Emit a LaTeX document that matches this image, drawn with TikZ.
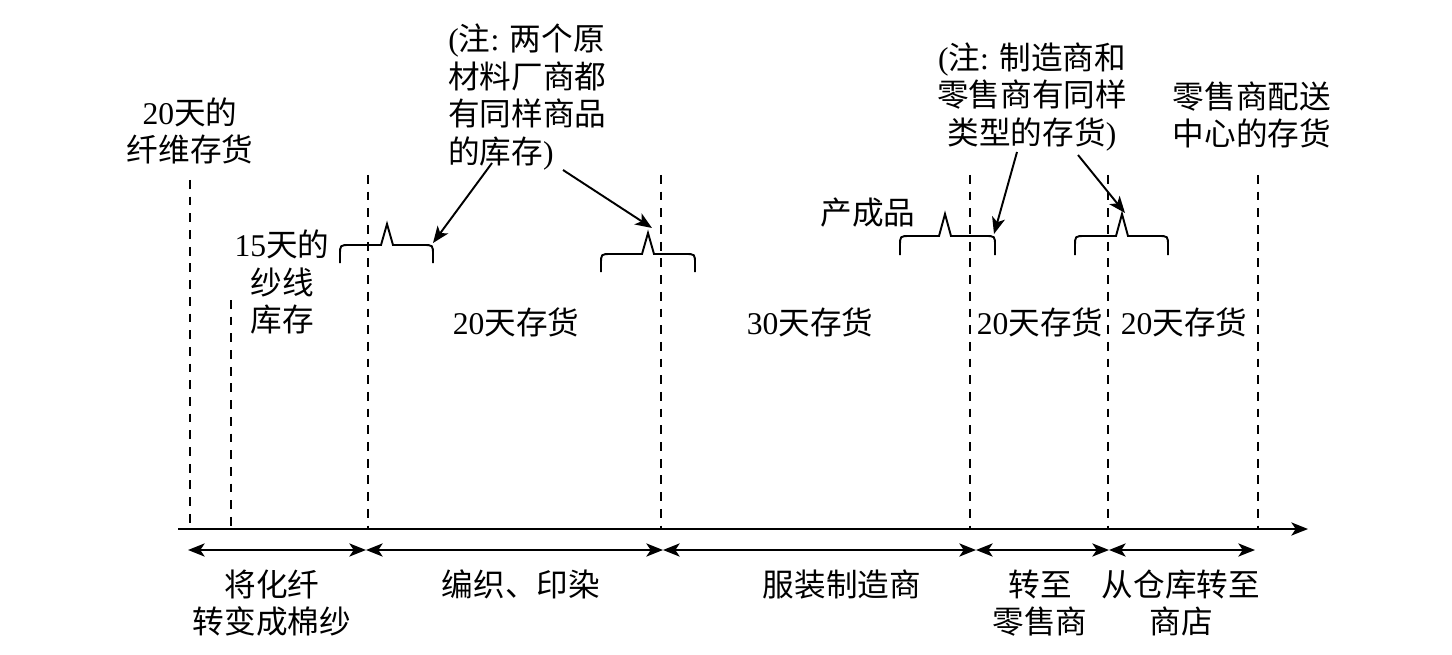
\documentclass[tikz,border=0pt]{standalone}
\usepackage{fontspec}
\setmainfont{Liberation Serif}
\newfontfamily\cjk{Noto Sans CJK SC}
\usetikzlibrary{arrows.meta}
\newcommand\zh[1]{{\cjk #1}}
\begin{document}
\begin{tikzpicture}[x=0.02cm,y=-0.02cm,
  txt/.style={inner sep=0pt,font=\fontsize{18}{21.5}\selectfont,align=center},
  vline/.style={line width=1pt,dash pattern=on 5pt off 4.5pt},
  brace/.style={line width=1.1pt},
  tip/.style={-{Stealth[length=9.5pt,width=7.5pt,inset=2.5pt]}},
  ptr/.style={line width=1.1pt,tip},
  span/.style={line width=1.1pt,{Stealth[length=9.5pt,width=7.5pt,inset=2.5pt]}-{Stealth[length=9.5pt,width=7.5pt,inset=2.5pt]}},
  ]
\useasboundingbox (0,0) rectangle (1452,655);
% dashed lines
\foreach \x/\y in {190/180,231/300,368/175,661/175,970/175,1108/175,1258/175}
  \draw[vline] (\x,\y) -- (\x,529);
% axis
\coordinate (a0) at (178,529);
\coordinate (a1) at (1308,529);
\draw[line width=1.1pt,tip] (a0) -- (a1);
% span arrows
\coordinate (s0) at (188,550);
\coordinate (s1) at (366,550);
\coordinate (s2) at (663,550);
\coordinate (s3) at (976,550);
\coordinate (s4) at (1109,550);
\coordinate (s5) at (1255,550);
\draw[span] (s0) -- (s1);
\draw[span] (s1) -- (s2);
\draw[span] (s2) -- (s3);
\draw[span] (s3) -- (s4);
\draw[span] (s4) -- (s5);
% braces
\foreach \xa/\xb/\yl/\yb/\px/\py in {340/433/245/263/387/224, 601/695/254/272/648/233, 900/995/236/255/945/214, 1075/1168/236/255/1122/214}
  \draw[brace] (\xa,\yb) -- (\xa,\yl+10) .. controls (\xa,\yl) .. (\xa+10,\yl) -- (\px-6,\yl) -- (\px,\py) -- (\px+6,\yl) -- (\xb-10,\yl) .. controls (\xb,\yl) .. (\xb,\yl+10) -- (\xb,\yb);
% texts
\node[txt] (fiber) at (190,131) {20\zh{天的}\\\zh{纤维存货}};
\node[txt] (yarn) at (282,282) {15\zh{天的}\\\zh{纱线}\\\zh{库存}};
\node[txt,align=left,anchor=west] (note1) at (448,97) {(\zh{注}: \zh{两个原}\\\zh{材料厂商都}\\\zh{有同样商品}\\\zh{的库存})};
\node[txt] (note2) at (1032,97) {(\zh{注}: \zh{制造商和}\\\zh{零售商有同样}\\\zh{类型的存货})};
\node[txt] (dist) at (1252,115) {\zh{零售商配送}\\\zh{中心的存货}};
\node[txt] (fin) at (868,213) {\zh{产成品}};
\node[txt] (i1) at (516,322) {20\zh{天存货}};
\node[txt] (i2) at (810,322) {30\zh{天存货}};
\node[txt] (i3) at (1040,322) {20\zh{天存货}};
\node[txt] (i4) at (1184,322) {20\zh{天存货}};
\node[txt] (b1) at (272,603) {\zh{将化纤}\\\zh{转变成棉纱}};
\node[txt] (b2) at (521,584) {\zh{编织、印染}};
\node[txt] (b3) at (842,584) {\zh{服装制造商}};
\node[txt] (b4) at (1040,603) {\zh{转至}\\\zh{零售商}};
\node[txt] (b5) at (1181,603) {\zh{从仓库转至}\\\zh{商店}};
% pointers
\coordinate (p1s) at (492,163);
\coordinate (p1e) at (433,243);
\coordinate (p2s) at (563,170);
\coordinate (p2e) at (652,228);
\coordinate (p3s) at (1017,152);
\coordinate (p3e) at (994,234);
\coordinate (p4s) at (1078,155);
\coordinate (p4e) at (1125,213);
\draw[ptr] (p1s) -- (p1e);
\draw[ptr] (p2s) -- (p2e);
\draw[ptr] (p3s) -- (p3e);
\draw[ptr] (p4s) -- (p4e);
\end{tikzpicture}
\end{document}
